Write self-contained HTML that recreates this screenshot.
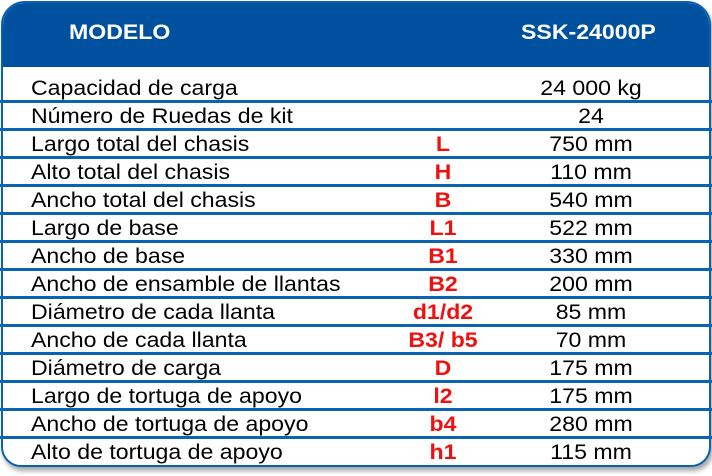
<!DOCTYPE html>
<html><head><meta charset="utf-8"><style>
body{margin:0;width:712px;height:476px;background:#fff;overflow:hidden;font-family:"Liberation Sans",Arial,sans-serif;position:relative}
.box{position:absolute;left:1px;top:1px;width:706px;height:462px;border:2px solid #0a60ad;border-radius:24px 24px 20px 20px;box-shadow:2px 4px 5px rgba(0,0,0,0.35);overflow:hidden;background:#fff}
.hdr{position:absolute;left:0;top:0;width:706px;height:64px;background:#0050a0}
.h{position:absolute;color:#fff;font-weight:bold;font-size:21px;top:21px;transform:scaleX(1.1);transform-origin:left}
.row{position:absolute;left:0;width:712px;height:28px}
.ln{position:absolute;left:0;bottom:-2px;width:712px;height:3px;background:#0a64b0}
.t{position:absolute;left:31px;top:5px;font-size:21px;line-height:21px;color:#000;white-space:nowrap;transform:scaleX(1.1);transform-origin:left}
.r{position:absolute;top:5px;font-size:21px;line-height:21px;color:#f01010;font-weight:bold;width:120px;text-align:center;left:383px;transform:scaleX(1.1)}
.v{position:absolute;top:5px;font-size:21px;line-height:21px;color:#000;width:200px;text-align:center;left:491px;transform:scaleX(1.1)}
</style></head><body>
<div class="box"><div class="hdr"></div></div>
<div class="h" style="left:69px">MODELO</div>
<div class="h" style="left:521px">SSK-24000P</div>
<div class="row" style="top:73px"><div class="t">Capacidad de carga</div><div class="r"></div><div class="v">24 000 kg</div><div class="ln"></div></div>
<div class="row" style="top:101px"><div class="t">Número de Ruedas de kit</div><div class="r"></div><div class="v">24</div><div class="ln"></div></div>
<div class="row" style="top:129px"><div class="t">Largo total del chasis</div><div class="r">L</div><div class="v">750 mm</div><div class="ln"></div></div>
<div class="row" style="top:157px"><div class="t">Alto total del chasis</div><div class="r">H</div><div class="v">110 mm</div><div class="ln"></div></div>
<div class="row" style="top:185px"><div class="t">Ancho total del chasis</div><div class="r">B</div><div class="v">540 mm</div><div class="ln"></div></div>
<div class="row" style="top:213px"><div class="t">Largo de base</div><div class="r">L1</div><div class="v">522 mm</div><div class="ln"></div></div>
<div class="row" style="top:241px"><div class="t">Ancho de base</div><div class="r">B1</div><div class="v">330 mm</div><div class="ln"></div></div>
<div class="row" style="top:269px"><div class="t">Ancho de ensamble de llantas</div><div class="r">B2</div><div class="v">200 mm</div><div class="ln"></div></div>
<div class="row" style="top:297px"><div class="t">Diámetro de cada llanta</div><div class="r">d1/d2</div><div class="v">85 mm</div><div class="ln"></div></div>
<div class="row" style="top:325px"><div class="t">Ancho de cada llanta</div><div class="r">B3/ b5</div><div class="v">70 mm</div><div class="ln"></div></div>
<div class="row" style="top:353px"><div class="t">Diámetro de carga</div><div class="r">D</div><div class="v">175 mm</div><div class="ln"></div></div>
<div class="row" style="top:381px"><div class="t">Largo de tortuga de apoyo</div><div class="r">l2</div><div class="v">175 mm</div><div class="ln"></div></div>
<div class="row" style="top:409px"><div class="t">Ancho de tortuga de apoyo</div><div class="r">b4</div><div class="v">280 mm</div><div class="ln"></div></div>
<div class="row" style="top:437px"><div class="t">Alto de tortuga de apoyo</div><div class="r">h1</div><div class="v">115 mm</div></div>
</body></html>
